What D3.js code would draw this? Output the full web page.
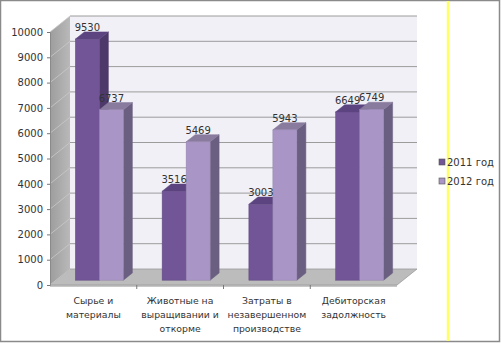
<!DOCTYPE html>
<html>
<head>
<meta charset="utf-8">
<script src="https://cdn.jsdelivr.net/npm/d3@7"></script>
<style>
  html, body { margin: 0; padding: 0; background: #fff; }
  svg { display: block; }
  text { font-family: "DejaVu Sans", sans-serif; font-size: 10px; fill: #333; }
</style>
</head>
<body>
<svg id="chart" width="501" height="343"></svg>
<script>
// Категории (строки подписи по оси X)
const categories = [
  ["Сырье и", "материалы"],
  ["Животные на", "выращивании и", "откорме"],
  ["Затраты в", "незавершенном", "производстве"],
  ["Дебиторская", "задолжность"]
];
const seriesNames = ["2011 год", "2012 год"];
const values2011 = [9530, 3516, 3003, 6649];
const values2012 = [6737, 5469, 5943, 6749];
const yTicks = [0, 1000, 2000, 3000, 4000, 5000, 6000, 7000, 8000, 9000, 10000];

const svg = d3.select("#chart");

// Геометрия 3D-проекции: глубина смещает точку вправо и вверх
const plot = { left: 50, right: 397, bottom: 285, top: 32 };
const depth = { dx: 20, dy: -16 };
const proj = (x, y, d) => [x + d * depth.dx, y + d * depth.dy];

const y = d3.scaleLinear().domain([0, 10000]).range([plot.bottom, plot.top]);
const catIdx = d3.range(categories.length);
const x = d3.scaleBand().domain(catIdx).range([plot.left, plot.right]);
const groupW = 48;
const xs = d3.scaleBand().domain([0, 1])
  .range([(x.bandwidth() - groupW) / 2, (x.bandwidth() + groupW) / 2]);

const colors = [
  { front: "#715596", side: "#4d3a6b", top: "#5c4480" },
  { front: "#a996c6", side: "#6a5f80", top: "#887b9d" }
];

const poly = pts => pts.map(p => p.join(",")).join(" ");

// Рамка
svg.append("rect").attr("x", 0.5).attr("y", 0.5).attr("width", 499).attr("height", 341)
  .attr("fill", "#fff").attr("stroke", "#8a8a8a").attr("stroke-width", 1.5);

// Жёлтая вертикальная линия
svg.append("line").attr("x1", 448).attr("x2", 448).attr("y1", 1).attr("y2", 341)
  .attr("stroke", "#ffff66").attr("stroke-width", 2.5);

// Градиент левой стенки
const defs = svg.append("defs");
const lg = defs.append("linearGradient").attr("id", "sideWall")
  .attr("x1", 0).attr("x2", 1).attr("y1", 0).attr("y2", 0);
lg.append("stop").attr("offset", 0).attr("stop-color", "#9d9d9d");
lg.append("stop").attr("offset", 1).attr("stop-color", "#b9b9b9");

const y0 = y(0), yMax = y(10000);

// Задняя стенка
svg.append("polygon")
  .attr("points", poly([proj(plot.left, y0, 1), proj(plot.right, y0, 1),
                        proj(plot.right, yMax, 1), proj(plot.left, yMax, 1)]))
  .attr("fill", "#f1f0f7");

// Левая стенка
svg.append("polygon")
  .attr("points", poly([proj(plot.left, y0, 0), proj(plot.left, y0, 1),
                        proj(plot.left, yMax, 1), proj(plot.left, yMax, 0)]))
  .attr("fill", "url(#sideWall)");

// Пол
svg.append("polygon")
  .attr("points", poly([proj(plot.left, y0, 0), proj(plot.right, y0, 0),
                        proj(plot.right, y0, 1), proj(plot.left, y0, 1)]))
  .attr("fill", "#bcbcbc").attr("stroke", "#9a9a9a").attr("stroke-width", 0.8);
svg.append("line")
  .attr("x1", plot.left).attr("x2", plot.right).attr("y1", y0 + 1).attr("y2", y0 + 1)
  .attr("stroke", "#8f8f8f").attr("stroke-width", 1.2);

// Линии сетки
yTicks.forEach(v => {
  const a = proj(plot.left, y(v), 1), b = proj(plot.right, y(v), 1);
  if (v > 0) {
    svg.append("line").attr("x1", a[0]).attr("y1", a[1]).attr("x2", b[0]).attr("y2", b[1])
      .attr("stroke", "#9c9c9c").attr("stroke-width", 1);
  }
  const c = proj(plot.left, y(v), 0);
  svg.append("line").attr("x1", c[0]).attr("y1", c[1]).attr("x2", a[0]).attr("y2", a[1])
    .attr("stroke", "#c9c9c9").attr("stroke-width", 0.8);
});

// Ось Y
const yAxis = d3.axisLeft(y).tickValues(yTicks).tickSize(3).tickPadding(4).tickFormat(d3.format("d"));
const gy = svg.append("g").attr("transform", `translate(${plot.left},0)`).call(yAxis);
gy.select(".domain").attr("stroke", "#8a8a8a");
gy.selectAll(".tick line").attr("stroke", "#777");
gy.selectAll(".tick text").attr("fill", "#333").style("font-family", "DejaVu Sans, sans-serif").style("font-size", "10px");

// Засечки оси X
catIdx.slice(1).forEach(i => {
  const xx = x(i);
  svg.append("line").attr("x1", xx).attr("x2", xx).attr("y1", y0).attr("y2", y0 + 4)
    .attr("stroke", "#777");
});

// Подписи категорий
categories.forEach((lines, i) => {
  const cx = x(i) + x.bandwidth() / 2;
  const t = svg.append("text").attr("text-anchor", "middle")
    .attr("x", cx).attr("y", 304)
    .style("font-size", "9.3px").attr("fill", "#444");
  lines.forEach((ln, k) => {
    t.append("tspan").attr("x", cx).attr("dy", k === 0 ? 0 : 14).text(ln);
  });
});

// Столбцы
const d0 = 0.3, d1 = 0.75;
const series = [values2011, values2012];
const bars = [];
catIdx.forEach(i => {
  series.forEach((vals, s) => bars.push({ i, s, v: vals[i] }));
});

const gBars = svg.append("g");
bars.forEach(b => {
  const xl = x(b.i) + xs(b.s), xr = xl + xs.bandwidth();
  const yt = y(b.v), yb = y(0);
  const c = colors[b.s];
  // боковая грань
  gBars.append("polygon")
    .attr("points", poly([proj(xr, yb, d0), proj(xr, yb, d1), proj(xr, yt, d1), proj(xr, yt, d0)]))
    .attr("fill", c.side).attr("stroke", c.side).attr("stroke-width", 0.5);
  // верхняя грань
  gBars.append("polygon")
    .attr("points", poly([proj(xl, yt, d0), proj(xr, yt, d0), proj(xr, yt, d1), proj(xl, yt, d1)]))
    .attr("fill", c.top).attr("stroke", c.top).attr("stroke-width", 0.5);
  // передняя грань
  const p = proj(xl, yt, d0);
  gBars.append("rect")
    .attr("x", p[0]).attr("y", p[1])
    .attr("width", xr - xl).attr("height", yb - yt)
    .attr("fill", c.front).attr("stroke", d3.color(c.front).darker(0.4)).attr("stroke-width", 0.5);
});

// Подписи значений
bars.forEach(b => {
  const xl = x(b.i) + xs(b.s), xr = xl + xs.bandwidth();
  const p = proj((xl + xr) / 2, y(b.v), d0);
  svg.append("text").attr("text-anchor", "middle")
    .attr("x", p[0]).attr("y", p[1] - 8)
    .attr("fill", "#222").text(b.v);
});

// Легенда
const legend = svg.append("g").attr("transform", "translate(439,159)");
seriesNames.forEach((name, s) => {
  const g = legend.append("g").attr("transform", `translate(0,${s * 19})`);
  g.append("rect").attr("width", 6).attr("height", 6)
    .attr("fill", colors[s].front).attr("stroke", "#555").attr("stroke-width", 0.6);
  g.append("text").attr("x", 8).attr("y", 7).text(name);
});
</script>
</body>
</html>
